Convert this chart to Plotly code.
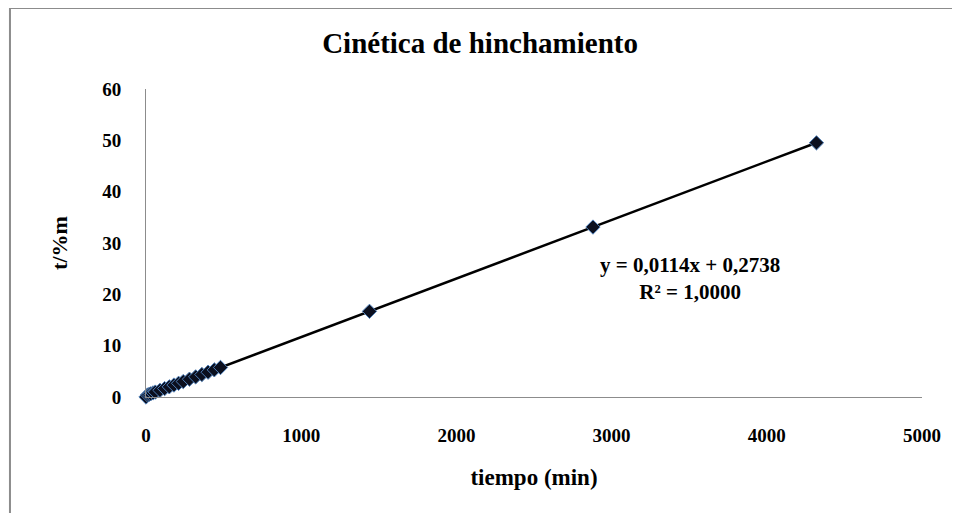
import numpy as np
import plotly.graph_objects as go

# tiempo (min) y t/%m
tiempo = [0, 10, 20, 30, 45, 60, 90, 120, 150, 180, 210, 240, 280, 320, 360,
          400, 440, 480, 1440, 2880, 4320]
t_m = [0.0, 0.39, 0.50, 0.62, 0.79, 0.96, 1.30, 1.64, 1.98, 2.33, 2.67, 3.01,
       3.47, 3.92, 4.38, 4.83, 5.29, 5.75, 16.69, 33.11, 49.52]

x_ticks = [0, 1000, 2000, 3000, 4000, 5000]
y_ticks = [0, 10, 20, 30, 40, 50, 60]

ecuacion = "<b>y = 0,0114x + 0,2738<br>R² = 1,0000</b>"

# linea de tendencia por minimos cuadrados
pend, inter = np.polyfit(tiempo, t_m, 1)
x_fit = np.array([tiempo[0], tiempo[-1]])
y_fit = pend * x_fit + inter

fuente = "Liberation Serif"

fig = go.Figure()
fig.add_trace(go.Scatter(x=x_fit, y=y_fit, mode='lines',
                         line=dict(color='black', width=2.5),
                         showlegend=False, hoverinfo='skip'))
fig.add_trace(go.Scatter(x=tiempo, y=t_m, mode='markers',
                         marker=dict(symbol='diamond', size=11, color='#0b0f1e',
                                     line=dict(color='#4f7fb8', width=1)),
                         showlegend=False))

# borde exterior del area del grafico
fig.add_shape(type='rect', xref='paper', yref='paper',
              x0=-0.1753, x1=1.07, y0=-0.45, y1=1.263,
              line=dict(color='#8c8c8c', width=2), layer='below')

fig.add_annotation(x=0.701, y=0.386, xref='paper', yref='paper', text=ecuacion,
                   showarrow=False, align='center', xanchor='center',
                   yanchor='middle',
                   font=dict(family=fuente, size=21, color='black'))

# la pagina deja 8 px de margen, se compensa aqui
fig.update_layout(
    width=960, height=513,
    margin=dict(l=138, r=46, t=81, b=124, autoexpand=False),
    paper_bgcolor='white', plot_bgcolor='white',
    title=dict(text='<b>Cinética de hinchamiento</b>', x=0.4917,
               xref='container', xanchor='center',
               y=0.932, yanchor='middle', automargin=False,
               font=dict(family=fuente, size=29, color='black')),
    font=dict(family=fuente, color='black'),
    xaxis=dict(range=[0, 5000], tickvals=x_ticks,
               ticktext=['<b>%d</b>' % v for v in x_ticks],
               showgrid=False, zeroline=False, showline=True,
               linecolor='#8c8c8c', linewidth=1, ticks='', automargin=False,
               ticklabelstandoff=21, tickfont=dict(size=19),
               title=dict(text='<b>tiempo (min)</b>', font=dict(size=23),
                          standoff=24)),
    yaxis=dict(range=[0, 60], tickvals=y_ticks,
               ticktext=['<b>%d</b>' % v for v in y_ticks],
               showgrid=False, zeroline=False, showline=True,
               linecolor='#8c8c8c', linewidth=1, ticks='', automargin=False,
               ticklabelstandoff=20, tickfont=dict(size=19),
               title=dict(text='<b>t/%m</b>', font=dict(size=22),
                          standoff=28)),
)
fig.update_traces(cliponaxis=False)

fig.write_html("out.html")
